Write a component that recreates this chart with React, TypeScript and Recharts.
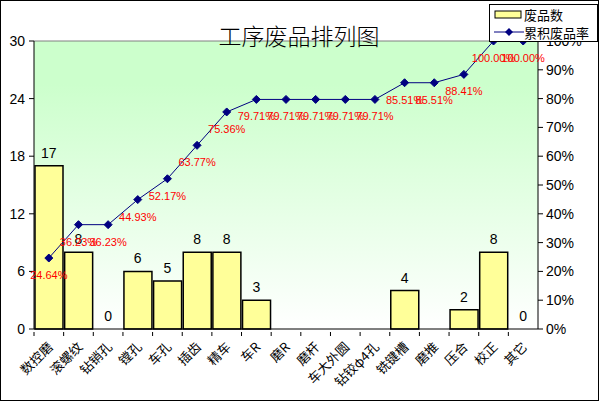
import React from 'react';
import {
  ComposedChart,
  Bar,
  Line,
  XAxis,
  YAxis,
  LabelList,
  Legend,
} from 'recharts';

const categories = [
  '数控磨', '滚螺纹', '钻销孔', '镗孔', '车孔', '插齿', '精车', '车R', '磨R',
  '磨杆', '车大外圆', '钻铰φ4孔', '铣键槽', '磨推', '压合', '校正', '其它',
];
const defects: (number | null)[] = [17, 8, 0, 6, 5, 8, 8, 3, null, null, null, null, 4, null, 2, 8, 0];
const cumulativeRate = [
  24.64, 36.23, 36.23, 44.93, 52.17, 63.77, 75.36, 79.71, 79.71, 79.71, 79.71, 79.71,
  85.51, 85.51, 88.41, 100.0, 100.0,
];
const leftTicks = [0, 6, 12, 18, 24, 30];
const rightTicks = [0, 10, 20, 30, 40, 50, 60, 70, 80, 90, 100];

const data = categories.map((name, i) => ({
  name,
  count: defects[i],
  rate: cumulativeRate[i],
}));

const W = 599;
const H = 401;
const PLOT_LEFT = 34;
const PLOT_RIGHT = 538;
const BAND = (PLOT_RIGHT - PLOT_LEFT) / categories.length;

const numFont = '"Liberation Sans", Arial, sans-serif';
const cjkFont = '"Noto Sans CJK SC", sans-serif';

const CategoryTick = (props: any) => {
  const { x, y, payload } = props;
  return (
    <g>
      <line x1={x - BAND / 2} y1={y - 5} x2={x - BAND / 2} y2={y - 1} stroke="#000" />
      <text
        x={x + 1}
        y={y + 7}
        transform={`rotate(-45, ${x + 1}, ${y + 7})`}
        textAnchor="end"
        dominantBaseline="central"
        fontSize={13}
        fontFamily={cjkFont}
        fill="#000"
      >
        {payload.value}
      </text>
    </g>
  );
};

const Diamond = (props: any) => {
  const { cx, cy } = props;
  if (cx == null || cy == null) return null;
  const r = 4;
  return (
    <path
      d={`M${cx},${cy - r}L${cx + r},${cy}L${cx},${cy + r}L${cx - r},${cy}Z`}
      fill="#000080"
      stroke="#000080"
    />
  );
};

const RateLabel = (props: any) => {
  const { x, y, value } = props;
  if (value == null) return null;
  return (
    <text
      x={x}
      y={y + 17}
      textAnchor="middle"
      dominantBaseline="central"
      fontSize={11}
      fontFamily={numFont}
      fill="#ff0000"
    >
      {Number(value).toFixed(2)}%
    </text>
  );
};

const CountLabel = (props: any) => {
  const { x, y, value } = props;
  if (value == null || x == null || y == null) return null;
  return (
    <text
      x={x}
      y={y - 13}
      textAnchor="middle"
      dominantBaseline="central"
      fontSize={14}
      fontFamily={numFont}
      fill="#000"
    >
      {value}
    </text>
  );
};

const LegendBox = () => (
  <div
    style={{
      width: 107,
      height: 36,
      border: '1px solid #000',
      background: '#fff',
      fontFamily: cjkFont,
      fontSize: 13,
      lineHeight: '17px',
      boxSizing: 'content-box',
    }}
  >
    <div style={{ display: 'flex', alignItems: 'center', height: 18 }}>
      <svg width={34} height={18}>
        <rect x={5} y={6} width={26} height={7} fill="#ffff99" stroke="#000" />
      </svg>
      <span>废品数</span>
    </div>
    <div style={{ display: 'flex', alignItems: 'center', height: 18 }}>
      <svg width={34} height={18}>
        <line x1={4} y1={9} x2={34} y2={9} stroke="#000080" />
        <path d="M19,5L23,9L19,13L15,9Z" fill="#000080" />
      </svg>
      <span>累积废品率</span>
    </div>
  </div>
);

export default function App() {
  return (
    <div style={{ position: 'fixed', left: 0, top: 0, width: W, height: H, background: '#fff' }}>
      <ComposedChart
        width={W}
        height={H}
        data={data}
        margin={{ top: 41, right: 11, bottom: 0, left: 0 }}
        barCategoryGap={1}
      >
        <defs>
          <linearGradient id="plotBg" x1="0" y1="0" x2="0" y2="1">
            <stop offset="0%" stopColor="#ccffcc" />
            <stop offset="15%" stopColor="#ccffcc" />
            <stop offset="100%" stopColor="#ffffff" />
          </linearGradient>
        </defs>
        <rect x={PLOT_LEFT} y={41} width={PLOT_RIGHT - PLOT_LEFT} height={288} fill="url(#plotBg)" />
        <line x1={PLOT_LEFT} y1={41} x2={PLOT_RIGHT} y2={41} stroke="#808080" />
        <text
          x={299}
          y={35}
          textAnchor="middle"
          dominantBaseline="central"
          fontSize={23}
          fontWeight={300}
          fontFamily={cjkFont}
          fill="#000"
        >
          工序废品排列图
        </text>
        <XAxis
          dataKey="name"
          interval={0}
          height={72}
          axisLine={{ stroke: '#000' }}
          tickLine={false}
          tick={<CategoryTick />}
        />
        <YAxis
          yAxisId="left"
          orientation="left"
          width={34}
          domain={[0, 30]}
          ticks={leftTicks}
          interval={0}
          axisLine={{ stroke: '#000' }}
          tickLine={{ stroke: '#000' }}
          tickSize={5}
          tick={{ fontSize: 14, fontFamily: numFont, fill: '#000' }}
          tickMargin={4}
        />
        <YAxis
          yAxisId="right"
          orientation="right"
          width={50}
          domain={[0, 100]}
          ticks={rightTicks}
          interval={0}
          tickFormatter={(v: number) => `${v}%`}
          axisLine={{ stroke: '#000' }}
          tickLine={{ stroke: '#000' }}
          tickSize={5}
          tick={{ fontSize: 14, fontFamily: numFont, fill: '#000' }}
          tickMargin={3}
        />
        <Bar
          yAxisId="left"
          dataKey="count"
          fill="#ffff99"
          stroke="#000"
          strokeWidth={1.5}
          isAnimationActive={false}
        />
        <Line
          yAxisId="left"
          dataKey="count"
          stroke="none"
          dot={false}
          activeDot={false}
          legendType="none"
          isAnimationActive={false}
        >
          <LabelList dataKey="count" content={<CountLabel />} />
        </Line>
        <Line
          yAxisId="right"
          dataKey="rate"
          stroke="#000080"
          strokeWidth={1}
          dot={<Diamond />}
          activeDot={false}
          isAnimationActive={false}
        >
          <LabelList dataKey="rate" content={<RateLabel />} />
        </Line>
        <Legend
          layout="horizontal"
          verticalAlign="middle"
          align="center"
          content={<LegendBox />}
          wrapperStyle={{ left: 489, top: 4, width: 109, height: 38, right: 'auto', bottom: 'auto' }}
        />
      </ComposedChart>
      <div
        style={{
          position: 'absolute',
          left: 0,
          top: 0,
          width: W,
          height: H,
          border: '1px solid #000',
          boxSizing: 'border-box',
          pointerEvents: 'none',
        }}
      />
    </div>
  );
}
